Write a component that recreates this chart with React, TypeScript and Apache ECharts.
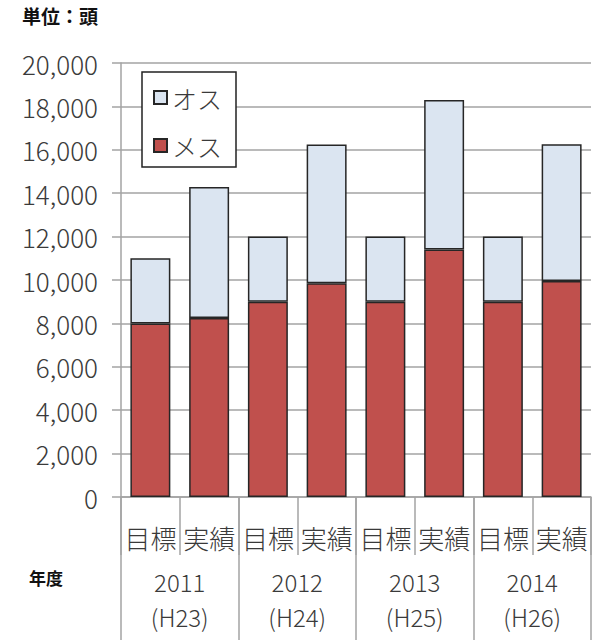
import React, { useEffect, useRef } from "react";
import * as echarts from "echarts";

const categories = ["目標", "実績", "目標", "実績", "目標", "実績", "目標", "実績"];
const yearLabels = ["2011\n(H23)", "2012\n(H24)", "2013\n(H25)", "2014\n(H26)"];
const femaleValues = [8000, 8250, 9000, 9850, 9000, 11400, 9000, 9950];
const maleValues = [3000, 6030, 3000, 6400, 3000, 6900, 3000, 6300];
const legendNames = ["オス", "メス"];

const FONT = "'Noto Sans CJK JP', 'Noto Sans', sans-serif";
const GRID = "#a3a3a3";
const TEXT = "#3a3a3a";

export default function App() {
  const ref = useRef<HTMLDivElement>(null);
  useEffect(() => {
    document.body.style.margin = "0";
    if (!ref.current) return;
    const chart = echarts.init(ref.current, undefined, { renderer: "svg" });
    chart.setOption({
      animation: false,
      backgroundColor: "#ffffff",
      textStyle: { fontFamily: FONT },
      grid: { left: 121, right: 7, top: 63, bottom: 145, containLabel: false },
      legend: {
        data: legendNames,
        orient: "vertical",
        left: 142,
        top: 72,
        width: 100,
        padding: [13, 14, 9, 11],
        itemGap: 23,
        itemWidth: 13,
        itemHeight: 13,
        icon: "rect",
        backgroundColor: "#ffffff",
        borderColor: "#222",
        borderWidth: 1.5,
        borderRadius: 0,
        textStyle: { fontSize: 25, color: TEXT, fontFamily: FONT, fontWeight: 300, lineHeight: 24 },
      },
      graphic: [
        {
          type: "text",
          left: 22,
          top: 6,
          style: { text: "単位：頭", fontSize: 19, fontWeight: "bold", fill: "#111", fontFamily: FONT },
        },
        {
          type: "text",
          left: 29,
          top: 569,
          style: { text: "年度", fontSize: 17, fontWeight: "bold", fill: "#111", fontFamily: FONT },
        },
      ],
      xAxis: [
        {
          type: "category",
          data: categories,
          position: "bottom",
          boundaryGap: true,
          axisLine: { show: true, lineStyle: { color: GRID, width: 1.5 } },
          axisTick: { show: true, length: 58, interval: 0, lineStyle: { color: GRID, width: 1.5 } },
          axisLabel: { interval: 0, fontSize: 26, lineHeight: 26, margin: 27, color: TEXT, fontWeight: 300, fontFamily: FONT },
        },
        {
          type: "category",
          data: yearLabels,
          position: "bottom",
          boundaryGap: true,
          axisLine: { show: false },
          axisTick: { show: true, length: 143, interval: 0, lineStyle: { color: GRID, width: 1.5 } },
          axisLabel: { interval: 0, fontSize: 24, lineHeight: 35, margin: 67, color: TEXT, fontWeight: 300, fontFamily: FONT },
        },
      ],
      yAxis: {
        type: "value",
        min: 0,
        max: 20000,
        interval: 2000,
        axisLine: { show: true, lineStyle: { color: GRID, width: 1.5 } },
        axisTick: { show: true, length: 9, lineStyle: { color: GRID, width: 1.5 } },
        splitLine: { show: true, lineStyle: { color: GRID, width: 1.5 } },
        axisLabel: {
          fontSize: 26,
          margin: 23,
          color: TEXT,
          fontWeight: 300,
          fontFamily: FONT,
          formatter: (v: number) => v.toLocaleString("en-US"),
        },
      },
      series: [
        {
          name: "メス",
          type: "bar",
          stack: "total",
          xAxisIndex: 0,
          barWidth: "68%",
          data: femaleValues,
          itemStyle: { color: "#c0504d", borderColor: "#262626", borderWidth: 1.5 },
        },
        {
          name: "オス",
          type: "bar",
          stack: "total",
          xAxisIndex: 0,
          barWidth: "68%",
          data: maleValues,
          itemStyle: { color: "#dbe5f1", borderColor: "#262626", borderWidth: 1.5 },
        },
      ],
    });
    return () => chart.dispose();
  }, []);
  return <div ref={ref} style={{ width: 598, height: 642 }} />;
}
